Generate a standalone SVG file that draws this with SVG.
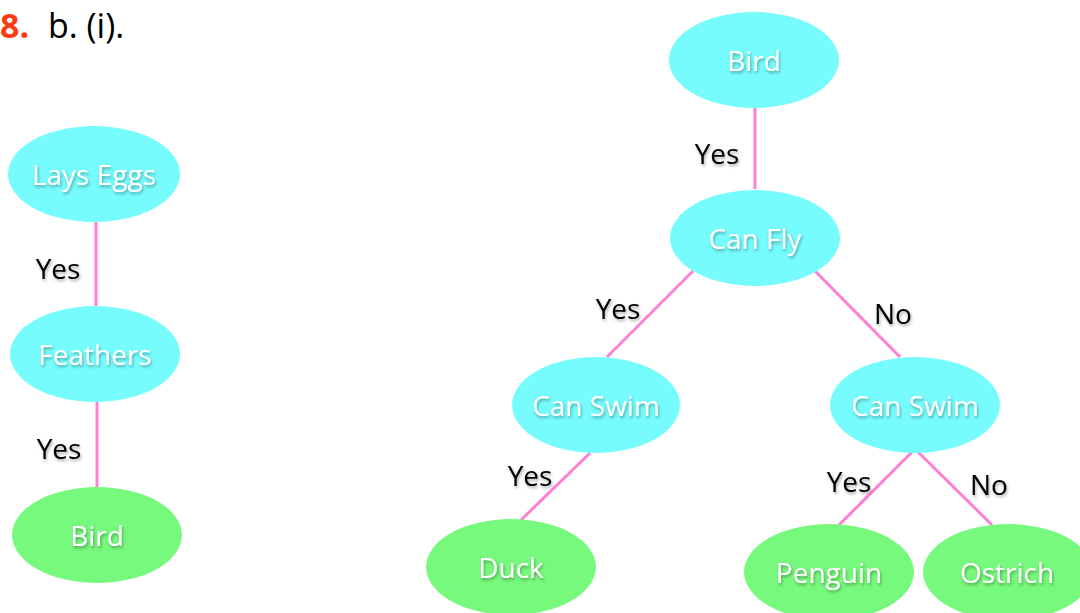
<svg xmlns="http://www.w3.org/2000/svg" width="1080" height="613" viewBox="0 0 1080 613">
<defs>
<filter id="sh" x="-20%" y="-40%" width="140%" height="180%">
<feDropShadow dx="1" dy="2" stdDeviation="1.5" flood-color="#000" flood-opacity="0.35"/>
</filter>
<style>
.q{fill:#76FCFD}
.l{fill:#77F97D}
.t{font-family:"Open Sans","Liberation Sans",sans-serif;font-size:28px;fill:#fff;text-anchor:middle;filter:url(#sh)}
.e{font-family:"Open Sans","Liberation Sans",sans-serif;font-size:28px;fill:#000;text-anchor:middle;filter:url(#sh)}
.c{stroke:#FF80D2;stroke-width:3;fill:none}
</style>
</defs>
<rect width="1080" height="613" fill="#fff"/>
<text y="38" font-family="Open Sans, Liberation Sans, sans-serif" font-size="34"><tspan x="0" fill="#FF3A12" font-weight="bold">8.</tspan><tspan x="48" fill="#000">b. (i).</tspan></text>
<g id="connectors">
<line class="c" x1="96" y1="222" x2="96" y2="306"/>
<line class="c" x1="97" y1="402" x2="97" y2="487"/>
<line class="c" x1="755" y1="108" x2="755" y2="189"/>
<line class="c" x1="693" y1="271" x2="607" y2="357"/>
<line class="c" x1="815" y1="271" x2="900" y2="357"/>
<line class="c" x1="590" y1="453" x2="520" y2="521"/>
<polyline class="c" points="839,525 915,449 992,525"/>
</g>
<g id="labels">
<text class="e" x="58" y="279">Yes</text>
<text class="e" x="59" y="459">Yes</text>
<text class="e" x="717" y="164">Yes</text>
<text class="e" x="618" y="319">Yes</text>
<text class="e" x="530" y="486">Yes</text>
<text class="e" x="849" y="492">Yes</text>
<text class="e" x="893" y="324">No</text>
<text class="e" x="989" y="495">No</text>
</g>
<g id="n-lays"><ellipse class="q" cx="94" cy="174" rx="86" ry="48"/><text class="t" x="94" y="185">Lays Eggs</text></g>
<g id="n-feathers"><ellipse class="q" cx="95" cy="354" rx="85" ry="48"/><text class="t" x="95" y="365">Feathers</text></g>
<g id="n-bird-left"><ellipse class="l" cx="97" cy="535" rx="85" ry="48"/><text class="t" x="97" y="546">Bird</text></g>
<g id="n-bird"><ellipse class="q" cx="754" cy="60" rx="85" ry="48"/><text class="t" x="754" y="71">Bird</text></g>
<g id="n-canfly"><ellipse class="q" cx="755" cy="238" rx="85" ry="48"/><text class="t" x="755" y="249">Can Fly</text></g>
<g id="n-swim1"><ellipse class="q" cx="596" cy="405" rx="84" ry="48"/><text class="t" x="596" y="416">Can Swim</text></g>
<g id="n-swim2"><ellipse class="q" cx="915" cy="405" rx="85" ry="48"/><text class="t" x="915" y="416">Can Swim</text></g>
<g id="n-duck"><ellipse class="l" cx="511" cy="567" rx="85" ry="48"/><text class="t" x="511" y="578">Duck</text></g>
<g id="n-penguin"><ellipse class="l" cx="829" cy="572" rx="85" ry="48"/><text class="t" x="829" y="583">Penguin</text></g>
<g id="n-ostrich"><ellipse class="l" cx="1008" cy="572" rx="85" ry="48"/><text class="t" x="1007" y="583">Ostrich</text></g>
</svg>
